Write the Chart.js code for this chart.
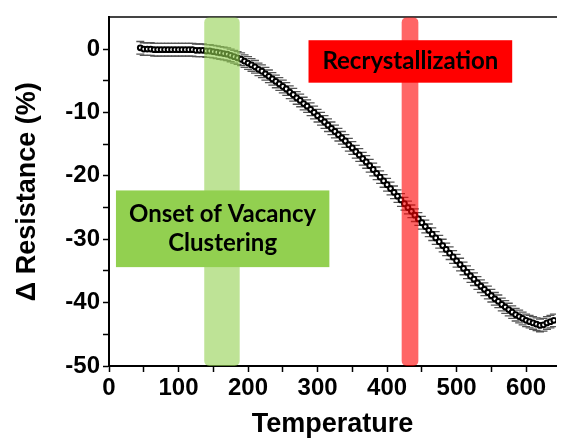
<!DOCTYPE html>
<html>
<head>
<meta charset="utf-8">
<script src="https://cdn.jsdelivr.net/npm/chart.js@4/dist/chart.umd.min.js"></script>
<style>
  html, body { margin: 0; padding: 0; background: #fff; }
  canvas { display: block; }
</style>
</head>
<body>
<canvas id="chart" width="562" height="441"></canvas>
<script>
const temperatures = [
  45, 50, 55, 60, 65, 70, 75, 80, 85, 90, 95, 100, 105, 110, 115, 120, 125, 130, 135, 140,
  145, 150, 155, 160, 165, 170, 175, 180, 185, 190, 195, 200, 205, 210, 215, 220, 225, 230, 235, 240,
  245, 250, 255, 260, 265, 270, 275, 280, 285, 290, 295, 300, 305, 310, 315, 320, 325, 330, 335, 340,
  345, 350, 355, 360, 365, 370, 375, 380, 385, 390, 395, 400, 405, 410, 415, 420, 425, 430, 435, 440,
  445, 450, 455, 460, 465, 470, 475, 480, 485, 490, 495, 500, 505, 510, 515, 520, 525, 530, 535, 540,
  545, 550, 555, 560, 565, 570, 575, 580, 585, 590, 595, 600, 605, 610, 615, 620, 625, 630, 635, 640
];
const resistanceChange = [
  0.2, 0.0, 0.0, 0.0, -0.1, -0.1, -0.1, -0.1, -0.1, -0.1, -0.1, -0.1, -0.1, -0.1, -0.1, -0.1, -0.2, -0.2, -0.2, -0.3,
  -0.3, -0.4, -0.5, -0.6, -0.7, -0.8, -1.0, -1.2, -1.4, -1.6, -1.9, -2.2, -2.5, -2.8, -3.2, -3.5, -3.9, -4.3, -4.7, -5.1,
  -5.5, -5.9, -6.3, -6.8, -7.2, -7.7, -8.1, -8.6, -9.0, -9.5, -10.0, -10.5, -11.0, -11.5, -12.0, -12.5, -13.0, -13.5, -14.0, -14.5,
  -15.1, -15.6, -16.2, -16.7, -17.3, -17.8, -18.4, -19.0, -19.6, -20.2, -20.8, -21.4, -22.0, -22.6, -23.2, -23.8, -24.4, -25.0, -25.6, -26.2,
  -26.8, -27.4, -28.0, -28.6, -29.2, -29.8, -30.4, -31.0, -31.6, -32.2, -32.8, -33.4, -34.0, -34.6, -35.2, -35.8, -36.3, -36.9, -37.4, -37.9,
  -38.4, -38.9, -39.4, -39.8, -40.3, -40.7, -41.1, -41.5, -41.9, -42.2, -42.5, -42.8, -43.0, -43.2, -43.4, -43.6, -43.5, -43.2, -43.0, -42.8
];
const errorBar = 1.0;

// highlighted temperature ranges
const vacancyBand = [137, 188];
const recrystBand = [421, 445];

const axisFont = { family: 'Liberation Sans, Arial, sans-serif', size: 24, weight: 'bold' };
const titleFont = { family: 'Liberation Sans, Arial, sans-serif', size: 27, weight: 'bold' };
const boxFont = 'bold 24px Lato, "Open Sans", sans-serif';

function points(offset) {
    return temperatures.map((t, i) => ({ x: t, y: resistanceChange[i] + offset }));
}

const annotations = {
    id: 'annotations',
    afterDatasetsDraw(chart) {
        const { ctx, chartArea, scales: { x, y } } = chart;
        ctx.save();

        function band(range, color) {
            const x0 = x.getPixelForValue(range[0]);
            const x1 = x.getPixelForValue(range[1]);
            ctx.fillStyle = color;
            ctx.beginPath();
            ctx.roundRect(x0, chartArea.top, x1 - x0, chartArea.bottom - chartArea.top, 5);
            ctx.fill();
        }
        band(vacancyBand, 'rgba(146, 208, 80, 0.6)');
        band(recrystBand, 'rgba(255, 0, 0, 0.6)');

        function box(x0, x1, y0, y1, color, lines) {
            const px0 = x.getPixelForValue(x0), px1 = x.getPixelForValue(x1);
            const py0 = y.getPixelForValue(y0), py1 = y.getPixelForValue(y1);
            ctx.fillStyle = color;
            ctx.fillRect(px0, py0, px1 - px0, py1 - py0);
            ctx.fillStyle = '#000';
            ctx.font = boxFont;
            ctx.textAlign = 'center';
            ctx.textBaseline = 'middle';
            const cx = (px0 + px1) / 2;
            const lh = 29;
            const cy = (py0 + py1) / 2 - (lines.length - 1) * lh / 2;
            lines.forEach((s, i) => ctx.fillText(s, cx, cy + i * lh));
        }
        box(10, 317, -22.3, -34.4, '#92d050', ['Onset of Vacancy', 'Clustering']);
        box(287, 580, 1.4, -5.3, '#ff0000', ['Recrystallization']);

        ctx.restore();
    }
};

new Chart(document.getElementById('chart').getContext('2d'), {
    type: 'scatter',
    data: {
        datasets: [
            {
                label: 'Resistance',
                data: points(0),
                showLine: true,
                borderColor: '#000',
                borderWidth: 2,
                pointRadius: 2.4,
                pointBorderWidth: 2,
                pointBackgroundColor: '#fff',
                pointBorderColor: '#000'
            },
            {
                label: 'upper',
                data: points(errorBar),
                showLine: false,
                pointStyle: 'line',
                pointRadius: 4,
                pointBorderWidth: 1.3,
                pointBorderColor: '#555'
            },
            {
                label: 'lower',
                data: points(-errorBar),
                showLine: false,
                pointStyle: 'line',
                pointRadius: 4,
                pointBorderWidth: 1.3,
                pointBorderColor: '#555'
            }
        ]
    },
    options: {
        responsive: false,
        animation: false,
        devicePixelRatio: 1,
        layout: { padding: 0 },
        plugins: {
            legend: { display: false },
            tooltip: { enabled: false }
        },
        scales: {
            x: {
                type: 'linear',
                position: 'bottom',
                min: 0,
                max: 643,
                afterFit: s => { s.height = 75; },
                ticks: {
                    stepSize: 50,
                    includeBounds: false,
                    autoSkip: false,
                    maxRotation: 0,
                    padding: 2,
                    color: '#000',
                    font: axisFont,
                    callback: v => (v % 100 === 0 ? v : '')
                },
                grid: { drawOnChartArea: false, tickLength: 6, tickColor: '#000', tickWidth: 1.5 },
                border: { color: '#000', width: 2 },
                title: { display: true, text: 'Temperature', color: '#000', font: titleFont, padding: { top: 0, bottom: 0 } }
            },
            xTop: {
                type: 'linear',
                position: 'top',
                min: 0,
                max: 643,
                afterFit: s => { s.height = 13; },
                ticks: { display: false },
                grid: { drawOnChartArea: false, drawTicks: false },
                border: { color: '#444', width: 2 }
            },
            y: {
                min: -50,
                max: 5,
                afterFit: s => { s.width = 109; },
                ticks: {
                    stepSize: 5,
                    includeBounds: false,
                    autoSkip: false,
                    padding: 3,
                    color: '#000',
                    font: axisFont,
                    callback: v => (v % 10 === 0 ? v : '')
                },
                grid: {
                    drawOnChartArea: false,
                    tickLength: 6,
                    tickWidth: 1.5,
                    tickColor: c => (c.tick && c.tick.value === 5 ? 'rgba(0,0,0,0)' : '#000')
                },
                border: { color: '#000', width: 2 },
                title: { display: true, text: '\u0394 Resistance (%)', color: '#000', font: titleFont, padding: { top: 11 } }
            }
        }
    },
    plugins: [annotations]
});
</script>
</body>
</html>
